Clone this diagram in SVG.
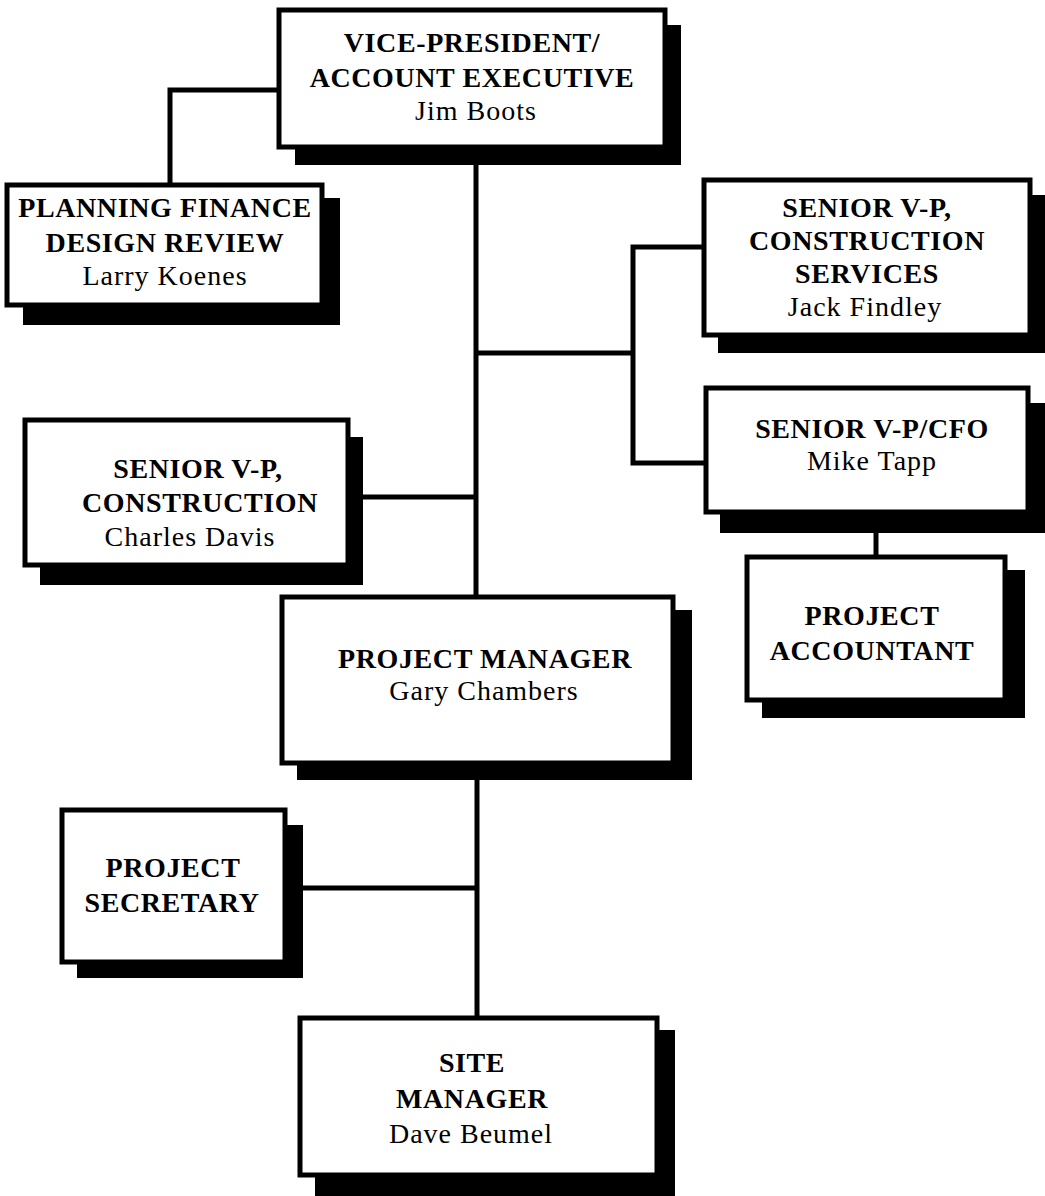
<svg xmlns="http://www.w3.org/2000/svg" width="1045" height="1196" viewBox="0 0 1045 1196">
<style>
.box{fill:#fff;stroke:#000;stroke-width:5}
.sh{fill:#000}
.ln{stroke:#000;stroke-width:5;fill:none}
.t{font-family:"Liberation Serif","Times New Roman",serif;font-weight:bold;font-size:28px;letter-spacing:0.6px;text-anchor:middle;fill:#000}
.n{font-family:"Liberation Serif","Times New Roman",serif;font-size:28px;letter-spacing:1px;text-anchor:middle;fill:#000}
</style>
<rect width="1045" height="1196" fill="#fff"/>
<g id="connectors">
<polyline class="ln" points="279,90 170,90 170,185"/>
<line class="ln" x1="476" y1="147" x2="476" y2="597"/>
<line class="ln" x1="476" y1="353" x2="633" y2="353"/>
<polyline class="ln" points="704,247 633,247 633,463 706,463"/>
<line class="ln" x1="348" y1="497" x2="476" y2="497"/>
<line class="ln" x1="876" y1="530" x2="876" y2="557"/>
<line class="ln" x1="477" y1="763" x2="477" y2="1018"/>
<line class="ln" x1="285" y1="888" x2="477" y2="888"/>
</g>
<g id="vp">
<rect class="sh" x="295" y="25" width="386" height="140"/>
<rect class="box" x="279" y="10" width="386" height="137"/>
<text class="t" x="472" y="52">VICE-PRESIDENT/</text>
<text class="t" x="472" y="87">ACCOUNT EXECUTIVE</text>
<text class="n" x="476" y="120">Jim Boots</text>
</g>
<g id="planning">
<rect class="sh" x="23" y="198" width="317" height="127"/>
<rect class="box" x="7" y="185" width="315" height="120"/>
<text class="t" x="165" y="217">PLANNING FINANCE</text>
<text class="t" x="165" y="252">DESIGN REVIEW</text>
<text class="n" x="165" y="285">Larry Koenes</text>
</g>
<g id="svp-cs">
<rect class="sh" x="718" y="195" width="330" height="158"/>
<rect class="box" x="704" y="180" width="326" height="155"/>
<text class="t" x="867" y="217">SENIOR V-P,</text>
<text class="t" x="867" y="250">CONSTRUCTION</text>
<text class="t" x="867" y="283">SERVICES</text>
<text class="n" x="865" y="316">Jack Findley</text>
</g>
<g id="svp-cfo">
<rect class="sh" x="720" y="403" width="330" height="130"/>
<rect class="box" x="706" y="388" width="322" height="124"/>
<text class="t" x="872" y="438">SENIOR V-P/CFO</text>
<text class="n" x="872" y="470">Mike Tapp</text>
</g>
<g id="svp-construction">
<rect class="sh" x="40" y="437" width="323" height="148"/>
<rect class="box" x="25" y="420" width="323" height="145"/>
<text class="t" x="198" y="478">SENIOR V-P,</text>
<text class="t" x="200" y="512">CONSTRUCTION</text>
<text class="n" x="190" y="546">Charles Davis</text>
</g>
<g id="project-accountant">
<rect class="sh" x="762" y="570" width="263" height="148"/>
<rect class="box" x="747" y="557" width="258" height="143"/>
<text class="t" x="872" y="625">PROJECT</text>
<text class="t" x="872" y="660">ACCOUNTANT</text>
</g>
<g id="project-manager">
<rect class="sh" x="297" y="610" width="395" height="170"/>
<rect class="box" x="282" y="597" width="391" height="166"/>
<text class="t" x="485" y="668">PROJECT MANAGER</text>
<text class="n" x="484" y="700">Gary Chambers</text>
</g>
<g id="project-secretary">
<rect class="sh" x="77" y="825" width="226" height="153"/>
<rect class="box" x="62" y="810" width="223" height="152"/>
<text class="t" x="173" y="877">PROJECT</text>
<text class="t" x="172" y="912">SECRETARY</text>
</g>
<g id="site-manager">
<rect class="sh" x="315" y="1030" width="360" height="170"/>
<rect class="box" x="300" y="1018" width="357" height="157"/>
<text class="t" x="472" y="1072">SITE</text>
<text class="t" x="472" y="1108">MANAGER</text>
<text class="n" x="471" y="1143">Dave Beumel</text>
</g>
</svg>
